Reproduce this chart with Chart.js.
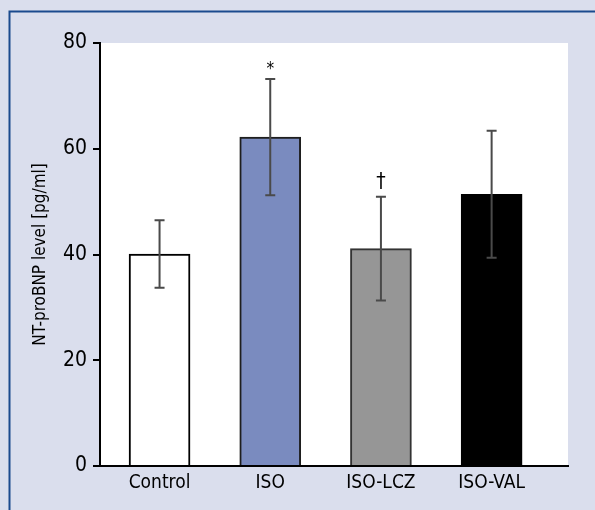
<!DOCTYPE html>
<html>
<head>
<meta charset="utf-8">
<script src="https://cdn.jsdelivr.net/npm/chart.js@4/dist/chart.umd.min.js"></script>
<style>
body{margin:0;background:#dadeed}
</style>
</head>
<body>
<canvas id="grafico" width="595" height="510"></canvas>
<script>

let grupos = ["Control","ISO","ISO-LCZ","ISO-VAL"]
let medias = [40.1, 62.2, 41.1, 51.4]
let erros = [6.4, 11.0, 9.8, 12.0]
let marcas = ["", "*", "\u2020", ""]
let cores = ["#ffffff","#7a8bbf","#969696","#000000"]
let bordas = ["#000000","#1e1e1e","#333333","#000000"]
let yTicks = [0,20,40,60,80]

let fonte = "'Liberation Sans Narrow','DejaVu Sans Condensed','Roboto Condensed',sans-serif"

// fundo, moldura e area branca
let fundo = {
id:"fundo",
beforeDraw(chart){
let c = chart.ctx
let a = chart.chartArea
c.save()
c.fillStyle = "#dadeed"
c.fillRect(0,0,chart.width,chart.height)
c.strokeStyle = "#1a4a8e"
c.lineWidth = 2
c.beginPath()
c.moveTo(9.5,chart.height)
c.lineTo(9.5,11.5)
c.lineTo(chart.width,11.5)
c.stroke()
c.fillStyle = "#ffffff"
c.fillRect(a.left,a.top,a.right-a.left,a.bottom-a.top)
c.restore()
}
}

// barras de erro e marcas de significancia
let barrasErro = {
id:"barrasErro",
afterDatasetsDraw(chart){
let c = chart.ctx
let y = chart.scales.y
let meta = chart.getDatasetMeta(0)
c.save()
meta.data.forEach((bar,i)=>{
let yt = y.getPixelForValue(medias[i]+erros[i])
let yb = y.getPixelForValue(medias[i]-erros[i])
c.strokeStyle = "#4a4a4a"
c.lineWidth = 2
c.beginPath()
c.moveTo(bar.x,yt)
c.lineTo(bar.x,yb)
c.moveTo(bar.x-5,yt)
c.lineTo(bar.x+5,yt)
c.moveTo(bar.x-5,yb)
c.lineTo(bar.x+5,yb)
c.stroke()
if(marcas[i]){
c.fillStyle = "#000"
c.textAlign = "center"
c.textBaseline = "bottom"
c.font = (marcas[i]=="*" ? "17px " : "21px ") + fonte
c.fillText(marcas[i],bar.x,yt-(marcas[i]=="*" ? 1 : 4))
}
})
c.restore()
}
}

let ctx = document.getElementById("grafico").getContext("2d")

let grafico = new Chart(ctx,{
type:"bar",
data:{
datasets:[{
label:"NT-proBNP",
data:grupos.map((g,i)=>({x:i,y:medias[i]})),
backgroundColor:cores,
borderColor:bordas,
borderWidth:2,
barThickness:61
}]
},
options:{
responsive:false,
animation:false,
events:[],
layout:{padding:{left:0,top:43,right:27,bottom:0}},
plugins:{legend:{display:false},tooltip:{enabled:false}},
scales:{
x:{
type:"linear",
offset:false,
min:-0.538,
max:3.69,
afterBuildTicks(s){ s.ticks = grupos.map((g,i)=>({value:i})) },
afterFit(s){ s.height = 44 },
grid:{display:false,drawTicks:false,offset:false},
border:{display:true,color:"#000",width:2},
ticks:{
autoSkip:false,
maxRotation:0,
padding:6,
color:"#000",
font:{family:fonte,size:19},
callback:(v)=>grupos[v]
}
},
y:{
min:0,
max:80,
afterBuildTicks(s){ s.ticks = yTicks.map(v=>({value:v})) },
afterFit(s){ s.width = 100 },
grid:{display:true,drawOnChartArea:false,drawTicks:true,tickLength:7,color:"#000",lineWidth:2},
border:{display:true,color:"#000",width:2},
ticks:{
padding:6,
color:"#000",
font:{family:fonte,size:21}
},
title:{
display:true,
text:"NT-proBNP level [pg/ml]",
color:"#000",
font:{family:fonte,size:17},
padding:{top:30,bottom:0}
}
}
}
},
plugins:[fundo,barrasErro]
})

</script>
</body>
</html>
